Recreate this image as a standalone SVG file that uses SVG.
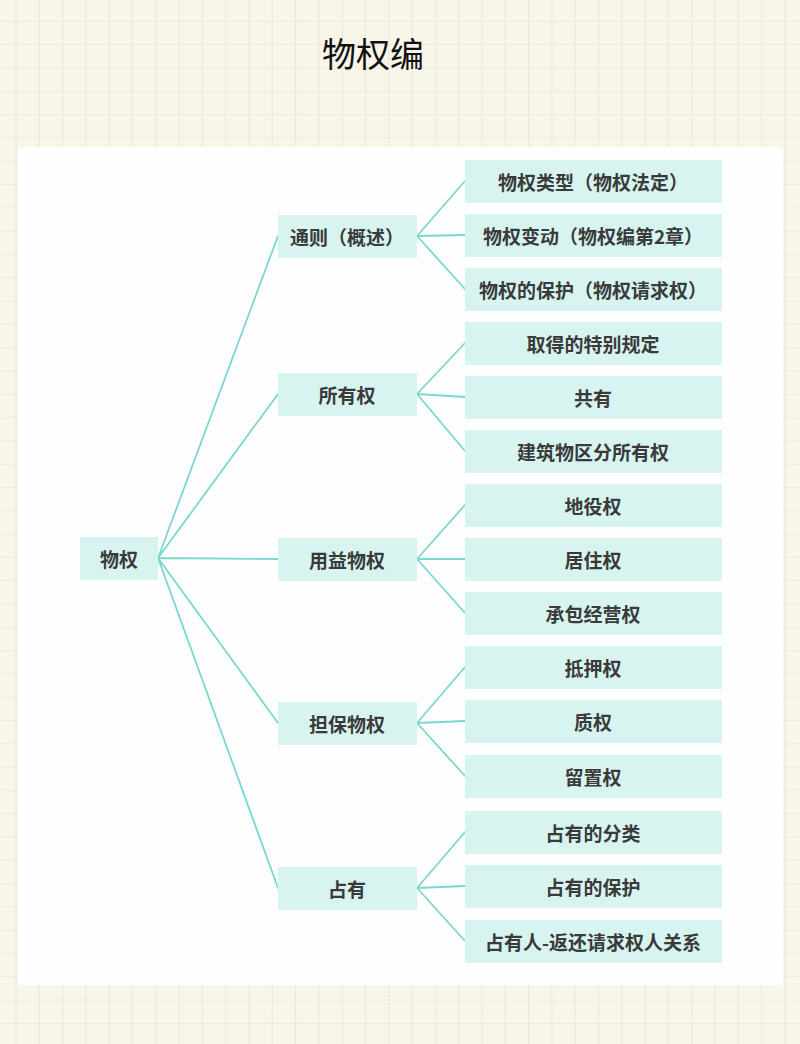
<svg xmlns="http://www.w3.org/2000/svg" width="800" height="1044" viewBox="0 0 800 1044">
  <defs>
    <pattern id="grid" patternUnits="userSpaceOnUse" x="15.5" y="21" width="23.3" height="23.3">
      <rect width="23.3" height="23.3" fill="#f8f6e9"/>
      <path d="M0 0 V23.3 M0 0 H23.3" stroke="#e2dfd0" stroke-width="1.2" fill="none"/>
    </pattern>
    <style>
      .box { fill: #d8f4f0; }
      .lbl { font-family: "Noto Sans CJK SC", "Noto Sans", sans-serif; font-size: 19px; font-weight: bold; fill: #3a3a3a; text-anchor: middle; dominant-baseline: central; }
      .con { stroke: #79d8cf; stroke-width: 1.8; fill: none; stroke-linecap: round; }
    </style>
  </defs>

  <rect width="800" height="1044" fill="url(#grid)"/>
  <rect x="18" y="147" width="765" height="838" fill="#fdfefd"/>

  <text x="373" y="52" font-family="Noto Sans CJK SC, sans-serif" font-size="34" fill="#111" text-anchor="middle" dominant-baseline="central">物权编</text>

  <g id="connectors">
    <path class="con" d="M158 558 L278 236 M158 558 L278 394 M158 558 L278 559 M158 558 L278 723 M158 558 L278 888"/>
    <path class="con" d="M417 236 L465 181 M417 236 L465 235 M417 236 L465 289"/>
    <path class="con" d="M417 394 L465 343 M417 394 L465 397 M417 394 L465 451"/>
    <path class="con" d="M417 559 L465 505 M417 559 L465 559 M417 559 L465 613"/>
    <path class="con" d="M417 723 L465 667 M417 723 L465 721 M417 723 L465 776"/>
    <path class="con" d="M417 888 L465 832 M417 888 L465 886 M417 888 L465 941"/>
  </g>

  <g id="root"><rect class="box" x="80" y="537" width="78" height="43"/><text class="lbl" x="119" y="558">物权</text></g>

  <g id="n-tongze"><rect class="box" x="278" y="215" width="139" height="43"/><text class="lbl" x="347" y="236">通则（概述）</text></g>
  <g id="n-suoyouquan"><rect class="box" x="278" y="373" width="139" height="43"/><text class="lbl" x="347" y="394">所有权</text></g>
  <g id="n-yongyi"><rect class="box" x="278" y="538" width="139" height="43"/><text class="lbl" x="347" y="559">用益物权</text></g>
  <g id="n-danbao"><rect class="box" x="278" y="702" width="139" height="43"/><text class="lbl" x="347" y="723">担保物权</text></g>
  <g id="n-zhanyou"><rect class="box" x="278" y="867" width="139" height="43"/><text class="lbl" x="347" y="888">占有</text></g>

  <g id="l-1"><rect class="box" x="465" y="160" width="257" height="43"/><text class="lbl" x="593" y="181">物权类型（物权法定）</text></g>
  <g id="l-2"><rect class="box" x="465" y="214" width="257" height="43"/><text class="lbl" x="593" y="235">物权变动（物权编第2章）</text></g>
  <g id="l-3"><rect class="box" x="465" y="268" width="257" height="43"/><text class="lbl" x="593" y="289">物权的保护（物权请求权）</text></g>
  <g id="l-4"><rect class="box" x="465" y="322" width="257" height="43"/><text class="lbl" x="593" y="343">取得的特别规定</text></g>
  <g id="l-5"><rect class="box" x="465" y="376" width="257" height="43"/><text class="lbl" x="593" y="397">共有</text></g>
  <g id="l-6"><rect class="box" x="465" y="430" width="257" height="43"/><text class="lbl" x="593" y="451">建筑物区分所有权</text></g>
  <g id="l-7"><rect class="box" x="465" y="484" width="257" height="43"/><text class="lbl" x="593" y="505">地役权</text></g>
  <g id="l-8"><rect class="box" x="465" y="538" width="257" height="43"/><text class="lbl" x="593" y="559">居住权</text></g>
  <g id="l-9"><rect class="box" x="465" y="592" width="257" height="43"/><text class="lbl" x="593" y="613">承包经营权</text></g>
  <g id="l-10"><rect class="box" x="465" y="646" width="257" height="43"/><text class="lbl" x="593" y="667">抵押权</text></g>
  <g id="l-11"><rect class="box" x="465" y="700" width="257" height="43"/><text class="lbl" x="593" y="721">质权</text></g>
  <g id="l-12"><rect class="box" x="465" y="755" width="257" height="43"/><text class="lbl" x="593" y="776">留置权</text></g>
  <g id="l-13"><rect class="box" x="465" y="811" width="257" height="43"/><text class="lbl" x="593" y="832">占有的分类</text></g>
  <g id="l-14"><rect class="box" x="465" y="865" width="257" height="43"/><text class="lbl" x="593" y="886">占有的保护</text></g>
  <g id="l-15"><rect class="box" x="465" y="920" width="257" height="43"/><text class="lbl" x="593" y="941">占有人-返还请求权人关系</text></g>
</svg>
